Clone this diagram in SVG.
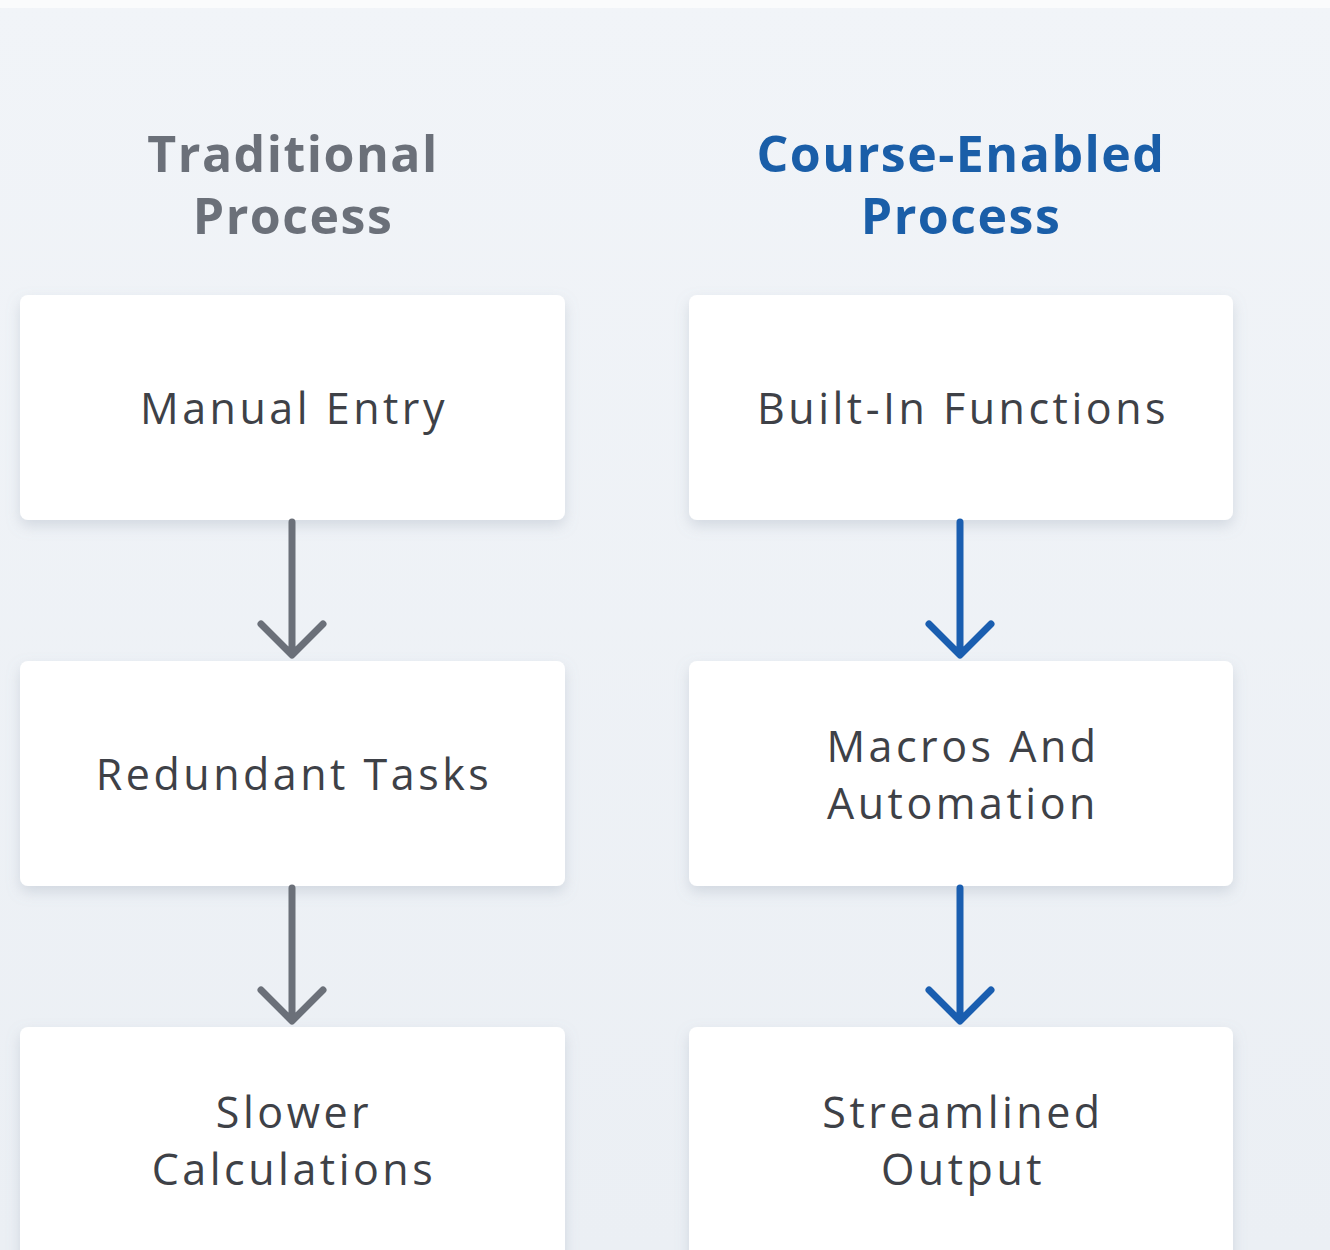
<svg xmlns="http://www.w3.org/2000/svg" width="1330" height="1250" viewBox="0 0 1330 1250">
<defs>
<linearGradient id="bg" x1="0" y1="0" x2="0" y2="1">
<stop offset="0" stop-color="#f1f4f8"/>
<stop offset="1" stop-color="#ebeff4"/>
</linearGradient>
<filter id="sh" x="-10%" y="-10%" width="120%" height="130%">
<feDropShadow dx="0" dy="6" stdDeviation="7" flood-color="#8a96a8" flood-opacity="0.28"/>
</filter>
</defs>
<style>
.box{fill:#ffffff;filter:url(#sh)}
.lbl{font-family:"Open Sans","Liberation Sans",sans-serif;font-size:43px;letter-spacing:3.5px;fill:#3e4147;text-anchor:middle}
.hd{font-family:"Open Sans","Liberation Sans",sans-serif;font-size:50px;font-weight:700;letter-spacing:1.5px;text-anchor:middle}
.g{stroke:#6b7079}
.b{stroke:#1a5eb0}
.ln{stroke-width:7;fill:none;stroke-linecap:round;stroke-linejoin:round}
</style>
<rect width="1330" height="1250" fill="url(#bg)"/>
<rect width="1330" height="8" fill="#fafbfc"/>
<g id="title-traditional">
<text class="hd" x="293" y="172" fill="#6b7079">Traditional</text>
<text class="hd" x="293" y="234" fill="#6b7079">Process</text>
</g>
<g id="title-course">
<text class="hd" x="961" y="172" fill="#1a5ea8">Course-Enabled</text>
<text class="hd" x="961" y="234" fill="#1a5ea8">Process</text>
</g>
<g id="manual-entry">
<rect class="box" x="20" y="295" width="545" height="225" rx="8"/>
<text class="lbl" x="294" y="424">Manual Entry</text>
</g>
<g id="redundant-tasks">
<rect class="box" x="20" y="661" width="545" height="225" rx="8"/>
<text class="lbl" x="294" y="790">Redundant Tasks</text>
</g>
<g id="slower-calculations">
<rect class="box" x="20" y="1027" width="545" height="240" rx="8"/>
<text class="lbl" x="294" y="1128">Slower</text>
<text class="lbl" x="294" y="1185">Calculations</text>
</g>
<g id="built-in-functions">
<rect class="box" x="689" y="295" width="544" height="225" rx="8"/>
<text class="lbl" x="963" y="424">Built-In Functions</text>
</g>
<g id="macros-automation">
<rect class="box" x="689" y="661" width="544" height="225" rx="8"/>
<text class="lbl" x="963" y="762">Macros And</text>
<text class="lbl" x="963" y="819">Automation</text>
</g>
<g id="streamlined-output">
<rect class="box" x="689" y="1027" width="544" height="240" rx="8"/>
<text class="lbl" x="963" y="1128">Streamlined</text>
<text class="lbl" x="963" y="1185">Output</text>
</g>
<g id="connectors">
<path class="ln g" d="M292 522 V654 M261 624 L292 655 L323 624"/>
<path class="ln g" d="M292 888 V1020 M261 990 L292 1021 L323 990"/>
<path class="ln b" d="M960 522 V654 M929 624 L960 655 L991 624"/>
<path class="ln b" d="M960 888 V1020 M929 990 L960 1021 L991 990"/>
</g>
</svg>
